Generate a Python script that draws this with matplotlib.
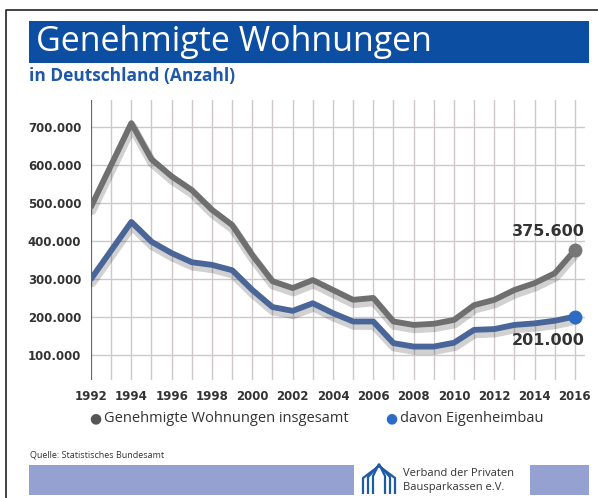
import matplotlib
matplotlib.use("Agg")
import matplotlib.pyplot as plt
import matplotlib.patheffects as pe
from matplotlib.patches import Rectangle, Polygon
from matplotlib.lines import Line2D
from matplotlib.ticker import FuncFormatter

years = list(range(1992, 2017))
insgesamt = [490000, 600000, 710000, 615000, 570000, 534000, 482000, 442000,
             363000, 294000, 276000, 297000, 271000, 245000, 250000, 188000,
             179000, 182000, 192000, 231000, 245000, 271000, 289000, 315000, 375600]
eigenheim = [300000, 375000, 450000, 398000, 368000, 344000, 337000, 323000,
             271000, 226000, 216000, 236000, 210000, 188000, 188000, 131000,
             122000, 122000, 132000, 166000, 168000, 179000, 183000, 190000, 201000]
yticks = [100000, 200000, 300000, 400000, 500000, 600000, 700000]
xticks = list(range(1992, 2017, 2))
label_total = "Genehmigte Wohnungen insgesamt"
label_eigen = "davon Eigenheimbau"
title = "Genehmigte Wohnungen"
subtitle = "in Deutschland (Anzahl)"
source = "Quelle: Statistisches Bundesamt"

W, H = 598, 498
fig = plt.figure(figsize=(W / 100, H / 100), dpi=100)
fig.patch.set_facecolor("white")

def fx(px):
    return px / W

def fy(py):
    return 1 - py / H

# frame (left and top edges)
fig.add_artist(Line2D([fx(6), fx(6), fx(598)], [fy(498), fy(10), fy(10)],
                      transform=fig.transFigure, color="#222222", lw=1.2))

# title banner
fig.add_artist(Rectangle((fx(29), fy(63)), fx(589 - 29), (63 - 21) / H,
                         transform=fig.transFigure, facecolor="#0c4ea2", edgecolor="none"))
fig.text(fx(36), fy(42), title, color="white", fontsize=24.5, family="Open Sans",
         va="center", ha="left")
fig.text(fx(29), fy(76), subtitle, color="#1f58a8", fontsize=12.5, family="Open Sans",
         weight="bold", va="center", ha="left")

GRAY = "#6f6f6f"
BLUE = "#4a6598"
GRID = "#cfc8c8"

ax = fig.add_axes([fx(91), fy(380), fx(585 - 91), (380 - 100) / H])
ax.set_xlim(1992, 2016.5)
ax.set_ylim(34000, 771000)
for s in ax.spines.values():
    s.set_visible(False)
ax.axvline(1992, color="#666666", lw=1.6, zorder=2)
for yr in years[1:]:
    ax.axvline(yr, color=GRID, lw=1.0, zorder=1)
for v in yticks:
    ax.axhline(v, color=GRID, lw=1.0, zorder=1)

shadow = [pe.SimpleLineShadow(offset=(0.5, -2.5), shadow_color="#000000", alpha=0.18, linewidth=7),
          pe.Normal()]
ax.plot(years, insgesamt, color=GRAY, lw=4.2, solid_joinstyle="round",
        solid_capstyle="round", path_effects=shadow, zorder=4)
ax.plot(years, eigenheim, color=BLUE, lw=4.2, solid_joinstyle="round",
        solid_capstyle="round", path_effects=shadow, zorder=4)
ax.plot([years[-1]], [insgesamt[-1]], "o", color="#777777", ms=9, zorder=5)
ax.plot([years[-1]], [eigenheim[-1]], "o", color="#2c6cc4", ms=9, zorder=5)

fmt = FuncFormatter(lambda v, p: f"{int(v):,}".replace(",", "."))
ax.text(2016.5, insgesamt[-1] + 50000, fmt(insgesamt[-1]), ha="right", va="center",
        fontsize=11.5, weight="bold", color="#333333", family="DejaVu Sans")
ax.text(2016.5, eigenheim[-1] - 62000, fmt(eigenheim[-1]), ha="right", va="center",
        fontsize=11.5, weight="bold", color="#333333", family="DejaVu Sans")

ax.set_yticks(yticks)
ax.yaxis.set_major_formatter(fmt)
ax.set_xticks(xticks)
ax.tick_params(length=0, colors="#333333", labelsize=8.5, pad=7)
for lab in ax.get_xticklabels() + ax.get_yticklabels():
    lab.set_fontweight("bold")
    lab.set_family("DejaVu Sans")

# legend
fig.text(fx(95), fy(418), "\u25CF", color="#555555", fontsize=10, ha="center", va="center",
         family="DejaVu Sans")
fig.text(fx(104), fy(418), label_total, color="#333333", fontsize=10.5, family="Open Sans",
         ha="left", va="center")
fig.text(fx(391), fy(418), "\u25CF", color="#2c6cc4", fontsize=10, ha="center", va="center",
         family="DejaVu Sans")
fig.text(fx(400), fy(418), label_eigen, color="#333333", fontsize=10.5, family="Open Sans",
         ha="left", va="center")

# footer
fig.text(fx(30), fy(455), source, color="#333333", fontsize=6.5, family="Open Sans",
         ha="left", va="center")
fig.add_artist(Rectangle((fx(29), fy(495)), fx(354 - 29), 30 / H,
                         transform=fig.transFigure, facecolor="#95a2d1", edgecolor="none"))
fig.add_artist(Rectangle((fx(530), fy(495)), fx(589 - 530), 30 / H,
                         transform=fig.transFigure, facecolor="#95a2d1", edgecolor="none"))
# simple logo house shapes
LOGO = "#1d5aa8"
for i, dx in enumerate([0, 5, 10]):
    pts = [(363 + dx, 494), (363 + dx, 478 - i), (379, 466 - i), (395 - dx, 478 - i), (395 - dx, 494)]
    fig.add_artist(Polygon([(fx(x), fy(y)) for x, y in pts], closed=False,
                           transform=fig.transFigure, fill=False, edgecolor=LOGO, lw=1.6))
fig.text(fx(403), fy(473), "Verband der Privaten", color="#333333", fontsize=8,
         family="Open Sans", ha="left", va="center")
fig.text(fx(403), fy(487), "Bausparkassen e.V.", color="#333333", fontsize=8,
         family="Open Sans", ha="left", va="center")

fig.savefig("out.png", dpi=100)
